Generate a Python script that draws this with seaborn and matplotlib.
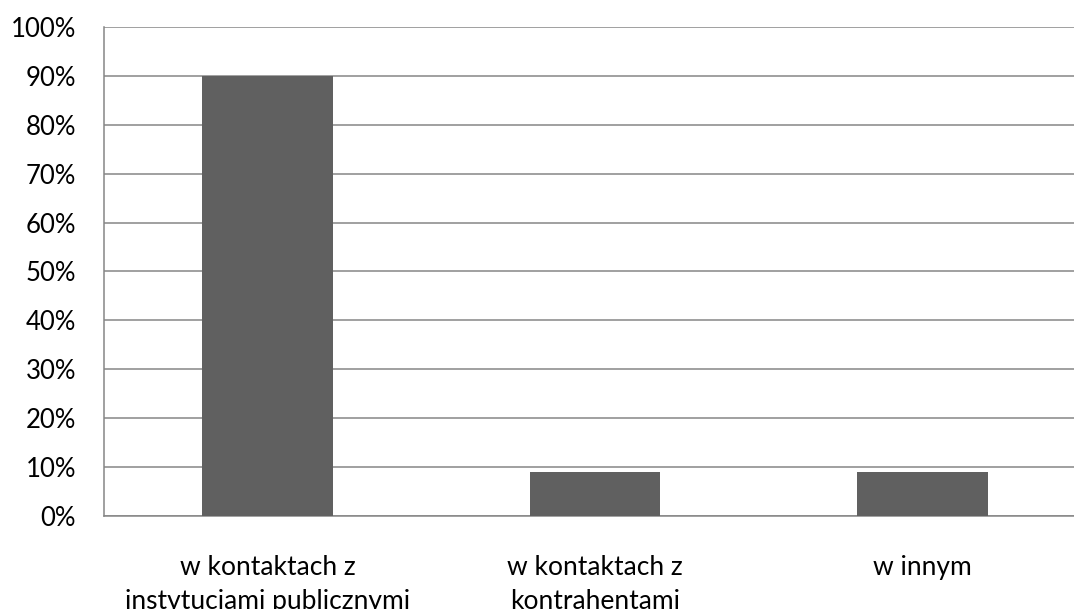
import matplotlib
matplotlib.use("Agg")
import matplotlib.pyplot as plt
import matplotlib.ticker as mticker
import seaborn as sns
import pandas as pd

categories = ["w kontaktach z\ninstytucjami publicznymi",
              "w kontaktach z\nkontrahentami",
              "w innym"]
values = [0.90, 0.09, 0.09]

sns.set_style("white")
plt.rcParams['font.family'] = ['Lato', 'DejaVu Sans']

df = pd.DataFrame({"cat": categories, "val": values})

fig = plt.figure(figsize=(10.74, 6.09), dpi=100)
ax = fig.add_axes([0.0968, 0.1527, 0.9144, 0.8030])

sns.barplot(data=df, x="cat", y="val", color="#606060", saturation=1,
            width=0.4, ax=ax, zorder=3, edgecolor="none", linewidth=0)

grid_c = "#868686"
ax.set_ylim(0, 1)
ax.set_xlim(-0.5, 2.5)
ax.yaxis.set_major_locator(mticker.MultipleLocator(0.1))
ax.yaxis.set_major_formatter(mticker.PercentFormatter(1.0, decimals=0))
ax.grid(axis="y", color=grid_c, linewidth=1.1, zorder=0)
ax.set_axisbelow(True)

# category ticks between bars, labels centred under bars
ax.set_xticks([-0.5, 0.5, 1.5, 2.5])
ax.set_xticklabels([])
ax.set_xticks([0, 1, 2], minor=True)
ax.set_xticklabels(categories, minor=True, fontsize=19, color="#000000",
                   linespacing=1.45)
ax.tick_params(axis="x", which="major", length=7, width=1.1, color=grid_c, direction="out")
ax.tick_params(axis="x", which="minor", length=0, pad=28)
ax.tick_params(axis="y", length=7, width=1.1, color=grid_c, direction="out",
               labelsize=18.5, pad=13, labelcolor="#000000")

for s in ["top", "right"]:
    ax.spines[s].set_visible(False)
for s in ["left", "bottom"]:
    ax.spines[s].set_color(grid_c)
    ax.spines[s].set_linewidth(1.1)

ax.set_xlabel("")
ax.set_ylabel("")

fig.savefig("out.png", dpi=100)
